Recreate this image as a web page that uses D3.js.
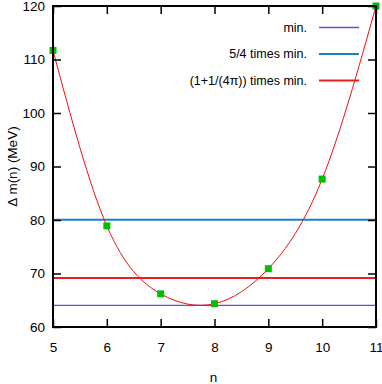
<!DOCTYPE html>
<html>
<head>
<meta charset="utf-8">
<script src="https://cdn.jsdelivr.net/npm/d3@7"></script>
<style>
  body { margin: 0; background: #fff; }
  text { font-family: "Liberation Sans", Arial, sans-serif; fill: #000; }
</style>
</head>
<body>
<div id="chart"></div>
<script>
const W = 382, H = 384
const margin = { top: 6, right: 6, bottom: 57, left: 53 }
const fs = 13.5

// dados
const nValues = [5, 6, 7, 8, 9, 10, 11]
const massDiff = [111.7, 78.9, 66.2, 64.35, 70.9, 87.65, 120.0]
const xTicks = [5, 6, 7, 8, 9, 10, 11]
const yTicks = [60, 70, 80, 90, 100, 110, 120]
const minValue = 64.05
const levels = [
  { label: "min.", value: minValue, color: "#5454e0", width: 1.3 },
  { label: "5/4 times min.", value: minValue * 5 / 4, color: "#1f7fc0", width: 2 },
  { label: "(1+1/(4\u03c0)) times min.", value: minValue * (1 + 1 / (4 * Math.PI)), color: "#e8201c", width: 2 }
]

const iw = W - margin.left - margin.right
const ih = H - margin.top - margin.bottom

let svg = d3.select("#chart").append("svg")
  .attr("width", W)
  .attr("height", H)

let g = svg.append("g").attr("transform", `translate(${margin.left},${margin.top})`)

const x = d3.scaleLinear().domain([5, 11]).range([0, iw])
const y = d3.scaleLinear().domain([60, 120]).range([ih, 0])

g.append("clipPath").attr("id", "clip")
  .append("rect").attr("width", iw).attr("height", ih)

// linhas horizontais
g.selectAll(".level")
  .data(levels)
  .enter().append("line")
  .attr("x1", 0).attr("x2", iw)
  .attr("y1", d => y(d.value)).attr("y2", d => y(d.value))
  .attr("stroke", d => d.color)
  .attr("stroke-width", d => d.width)

// curva
const pts = nValues.map((n, i) => [n, massDiff[i]])
const line = d3.line()
  .x(d => x(d[0])).y(d => y(d[1]))
  .curve(d3.curveNatural)
g.append("path")
  .datum(pts)
  .attr("clip-path", "url(#clip)")
  .attr("d", line)
  .attr("fill", "none")
  .attr("stroke", "#f01010")
  .attr("stroke-width", 1)

// pontos
g.selectAll(".pt")
  .data(pts)
  .enter().append("rect")
  .attr("x", d => x(d[0]) - 3.5)
  .attr("y", d => y(d[1]) - 3.5)
  .attr("width", 7).attr("height", 7)
  .attr("fill", "#00c000")

// eixos (ticks para dentro, espelhados)
const tl = 8
const axB = g.append("g").attr("transform", `translate(0,${ih})`)
  .call(d3.axisBottom(x).tickValues(xTicks).tickSize(-tl).tickPadding(15).tickFormat(d3.format("d")))
const axT = g.append("g")
  .call(d3.axisTop(x).tickValues(xTicks).tickSize(-tl).tickFormat(""))
const axL = g.append("g")
  .call(d3.axisLeft(y).tickValues(yTicks).tickSize(-tl).tickPadding(8).tickFormat(d3.format("d")))
const axR = g.append("g").attr("transform", `translate(${iw},0)`)
  .call(d3.axisRight(y).tickValues(yTicks).tickSize(-tl).tickFormat(""))

;[axB, axT, axL, axR].forEach(a => {
  a.select(".domain").remove()
  a.selectAll(".tick line").attr("stroke", "#000").attr("stroke-width", 1.5)
  a.selectAll("text").attr("font-size", fs).style("font-family", "Liberation Sans, Arial, sans-serif")
})

g.append("rect")
  .attr("width", iw).attr("height", ih)
  .attr("fill", "none").attr("stroke", "#000").attr("stroke-width", 2)

// legenda
const leg = g.selectAll(".leg")
  .data(levels)
  .enter().append("g")
  .attr("transform", (d, i) => `translate(0,${21.5 + i * 26.5})`)
leg.append("text")
  .attr("x", 254).attr("dy", "0.35em")
  .attr("text-anchor", "end")
  .attr("font-size", 12.5)
  .text(d => d.label)
leg.append("line")
  .attr("x1", 266).attr("x2", 306)
  .attr("stroke", d => d.color)
  .attr("stroke-width", d => d.width)

// titulos dos eixos
svg.append("text")
  .attr("x", margin.left + iw / 2 - 1).attr("y", 382)
  .attr("text-anchor", "middle")
  .attr("font-size", fs)
  .text("n")
svg.append("text")
  .attr("transform", `translate(17,${margin.top + ih / 2}) rotate(-90)`)
  .attr("text-anchor", "middle")
  .attr("font-size", fs)
  .text("\u0394 m(n) (MeV)")
</script>
</body>
</html>
